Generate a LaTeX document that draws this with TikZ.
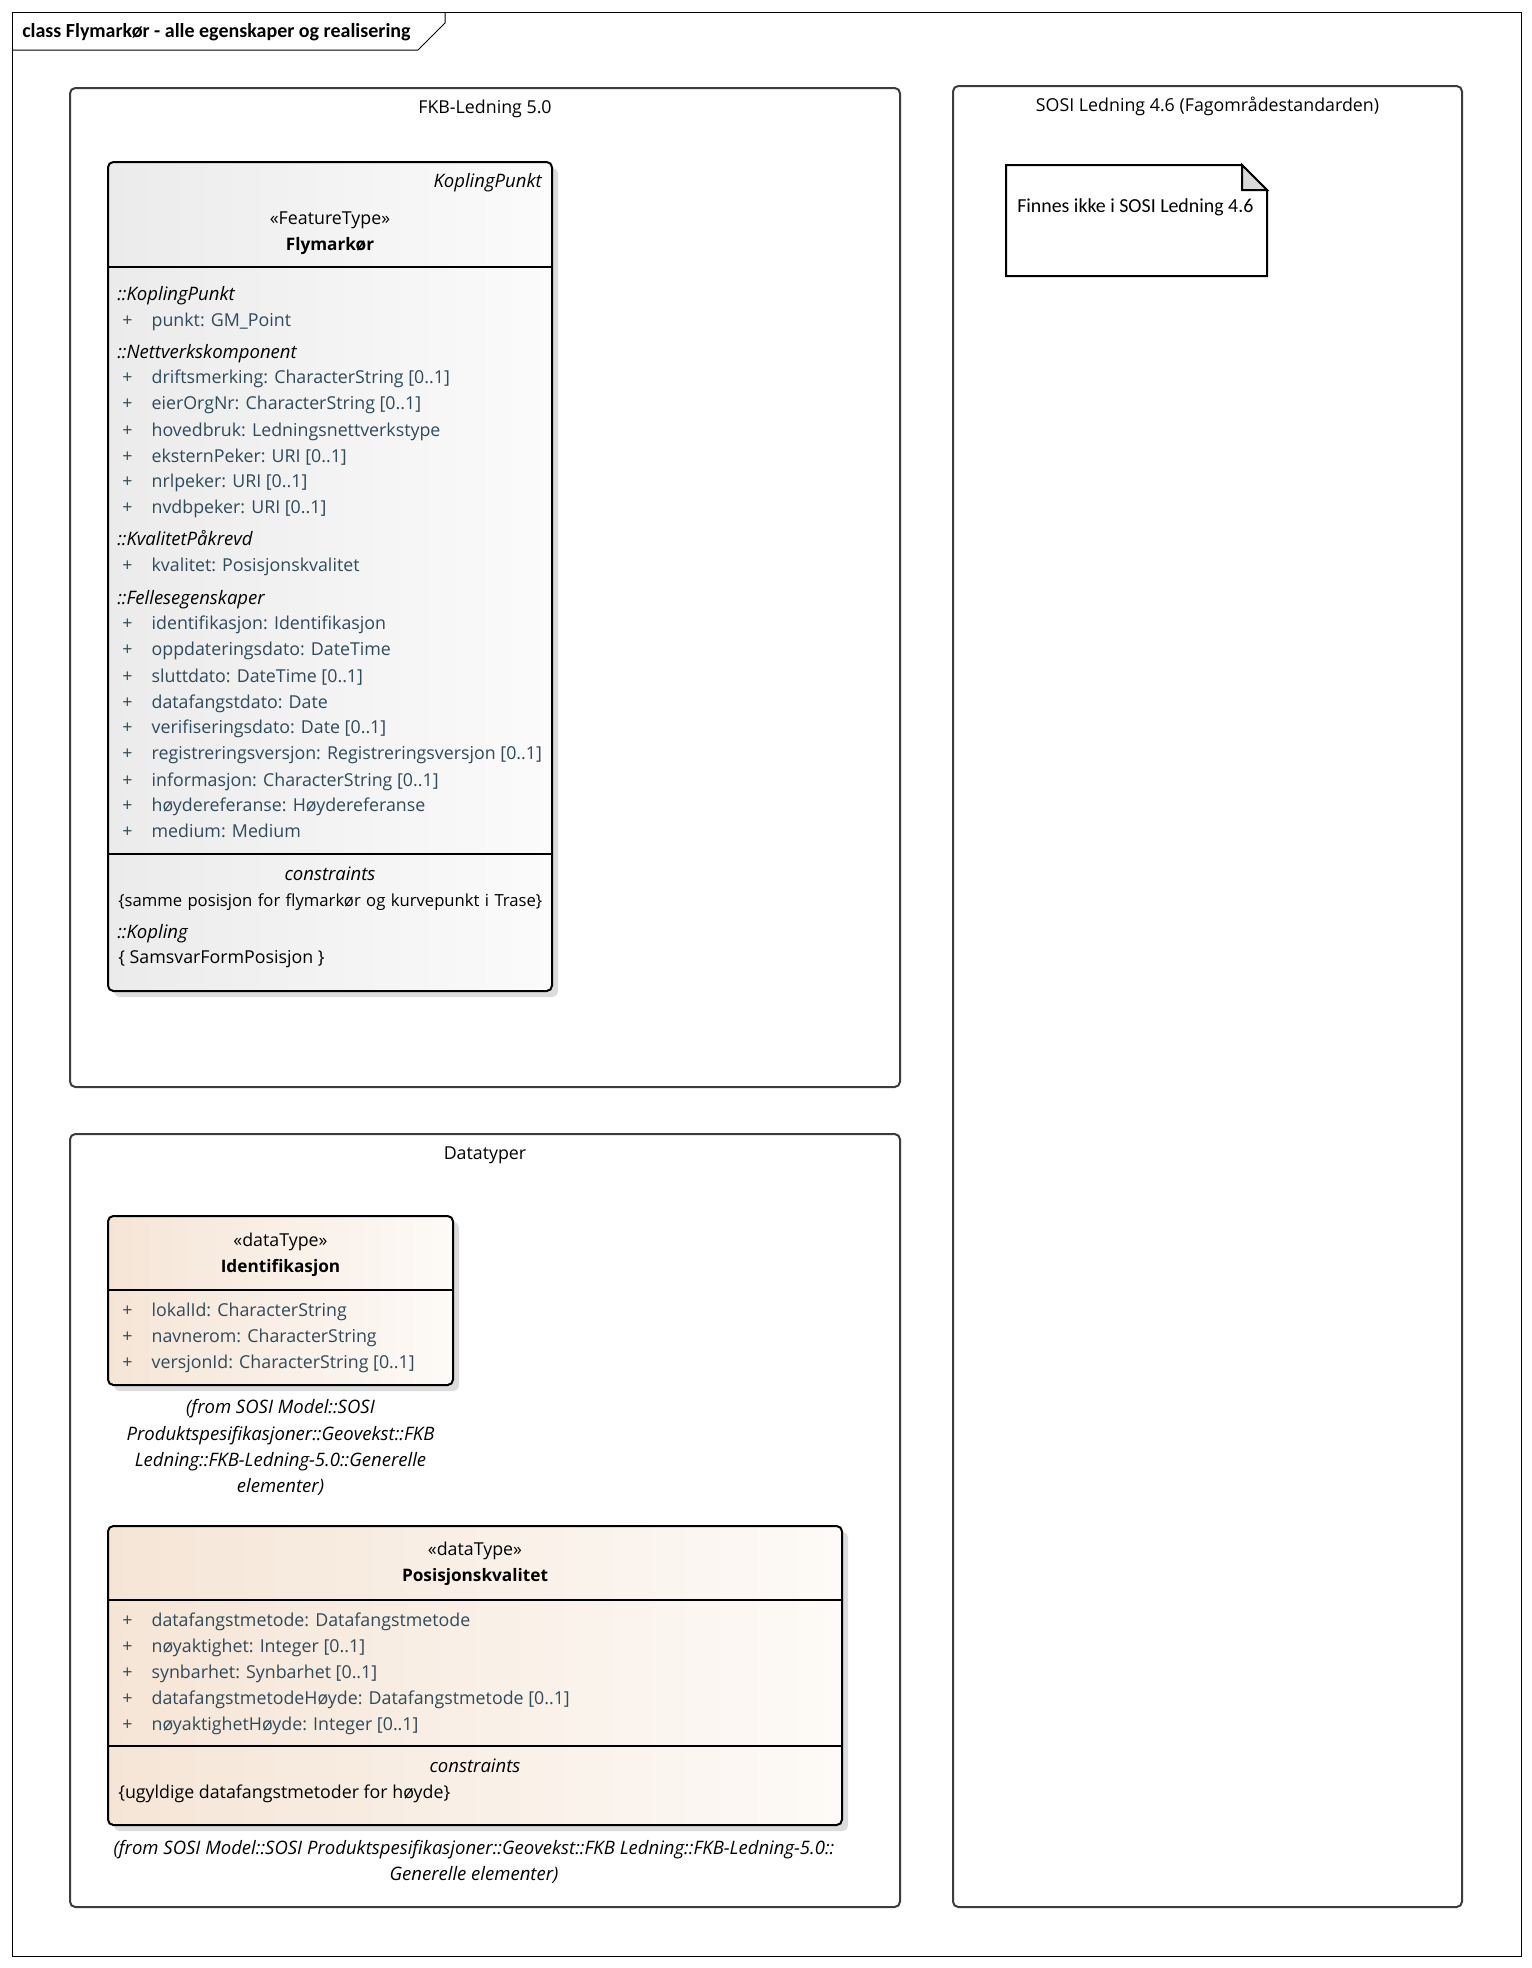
\documentclass[tikz,border=0pt]{standalone}
\usepackage{fontspec}
\setmainfont{Open Sans}
\newfontfamily\calibri{Carlito}
\usepackage{tikz}
\usetikzlibrary{positioning, fit, shadows}
\definecolor{attrgray}{HTML}{2F4A5A}
\definecolor{pkgline}{HTML}{3C3C3C}
\definecolor{featleft}{HTML}{EBEBEB}
\definecolor{featright}{HTML}{FBFBFB}
\definecolor{dataleft}{HTML}{F5E5D6}
\definecolor{dataright}{HTML}{FDFAF7}
\definecolor{shadowgray}{HTML}{DCDCDC}
\definecolor{foldgray}{HTML}{D9D9D9}
\newcommand{\umlsize}{\fontsize{13.35pt}{15pt}\selectfont}
\newcommand{\umlitsize}{\fontsize{13.9pt}{15pt}\selectfont\itshape}
\newcommand{\umlbfsize}{\fontsize{12.9pt}{15pt}\selectfont\bfseries}
\newcommand{\attrplus}{\makebox[22pt][l]{+}}

\begin{document}
\begin{tikzpicture}[
  x=0.75pt, y=-0.75pt,
  pkg/.style={rectangle, draw=pkgline, line width=1.5pt, rounded corners=4pt, inner sep=0pt},
  featbox/.style={rectangle, draw=black, line width=1.5pt, rounded corners=4pt, inner sep=0pt, left color=featleft, right color=featright, drop shadow={shadow xshift=4.5pt, shadow yshift=-4.5pt, fill=shadowgray, opacity=1}},
  databox/.style={featbox, left color=dataleft, right color=dataright},
  sepline/.style={black, line width=1.5pt},
  attr/.style={anchor=base west, inner sep=0pt, text=attrgray, font=\umlsize},
  grp/.style={anchor=base west, inner sep=0pt, font=\umlitsize},
  txt/.style={anchor=base west, inner sep=0pt, font=\umlsize},
  ctr/.style={anchor=base, inner sep=0pt, font=\umlsize},
  from/.style={anchor=base, inner sep=0pt, font=\umlitsize}
]
\useasboundingbox (0,0) rectangle (1532,1968);

% diagram frame
\draw[line width=0.75pt] (12,12) rectangle (1521,1956);
\draw[line width=0.75pt] (12,50) -- (418,50) -- (445,23) -- (445,12);
\node[anchor=base west, inner sep=0pt, font=\calibri\fontsize{15pt}{17pt}\selectfont\bfseries] (frametitle) at (22,37) {class Flymarkør - alle egenskaper og realisering};

% packages
\node[pkg, fit={(70,88) (900,1087)}] (fkb) {};
\node[ctr] (fkbname) at (485,113.5) {FKB-Ledning 5.0};
\node[pkg, fit={(953,86) (1462,1907)}] (sosi) {};
\node[ctr] (sosiname) at (1207.5,111.5) {SOSI Ledning 4.6 (Fagområdestandarden)};
\node[pkg, fit={(70,1134) (900,1907)}] (dtyper) {};
\node[ctr] (dtypername) at (485,1159.5) {Datatyper};

% note
\draw[line width=1.5pt, fill=white] (1006,165) -- (1242,165) -- (1267,190) -- (1267,276) -- (1006,276) -- cycle;
\filldraw[line width=1.5pt, fill=foldgray] (1242,165) -- (1242,190) -- (1267,190) -- cycle;
\node[anchor=base west, inner sep=0pt, font=\calibri\fontsize{14.9pt}{17pt}\selectfont] (notetext) at (1017,212.5) {Finnes ikke i SOSI Ledning 4.6};

% Flymarkør
\node[featbox, fit={(108,162) (552,991)}] (fly) {};
\draw[sepline] (108,267) -- (552,267);
\draw[sepline] (108,854) -- (552,854);
\node[anchor=base east, inner sep=0pt, font=\umlitsize] (fly-parent) at (542,187.5) {KoplingPunkt};
\node[ctr] (fly-stereo) at (330,224.5) {«FeatureType»};
\node[ctr, font=\umlbfsize] (fly-name) at (330,250.5) {Flymarkør};
\node[grp] (g-kopling) at (117,300.5) {::KoplingPunkt};
\node[attr] (a-punkt) at (122,326) {\attrplus punkt: GM\_Point};
\node[grp] (g-nett) at (117,358) {::Nettverkskomponent};
\node[attr] (a-drift) at (122,383.5) {\attrplus driftsmerking: CharacterString [0..1]};
\node[attr] (a-eier) at (122,409.5) {\attrplus eierOrgNr: CharacterString [0..1]};
\node[attr] (a-hoved) at (122,436) {\attrplus hovedbruk: Ledningsnettverkstype};
\node[attr] (a-ekstern) at (122,462) {\attrplus eksternPeker: URI [0..1]};
\node[attr] (a-nrl) at (122,487.5) {\attrplus nrlpeker: URI [0..1]};
\node[attr] (a-nvdb) at (122,513.5) {\attrplus nvdbpeker: URI [0..1]};
\node[grp] (g-kval) at (117,545) {::KvalitetPåkrevd};
\node[attr] (a-kval) at (122,571.5) {\attrplus kvalitet: Posisjonskvalitet};
\node[grp] (g-felles) at (117,604) {::Fellesegenskaper};
\node[attr] (a-ident) at (122,629) {\attrplus identifikasjon: Identifikasjon};
\node[attr] (a-oppd) at (122,655.5) {\attrplus oppdateringsdato: DateTime};
\node[attr] (a-slutt) at (122,682) {\attrplus sluttdato: DateTime [0..1]};
\node[attr] (a-dfdato) at (122,708) {\attrplus datafangstdato: Date};
\node[attr] (a-verif) at (122,733) {\attrplus verifiseringsdato: Date [0..1]};
\node[attr] (a-regv) at (122,759.5) {\attrplus registreringsversjon: Registreringsversjon [0..1]};
\node[attr] (a-info) at (122,786) {\attrplus informasjon: CharacterString [0..1]};
\node[attr] (a-hoyde) at (122,811) {\attrplus høydereferanse: Høydereferanse};
\node[attr] (a-medium) at (122,837.5) {\attrplus medium: Medium};
\node[ctr, font=\umlitsize] (fly-constr) at (330,880.5) {constraints};
\node[txt, font=\fontsize{12.5pt}{15pt}\selectfont] (c-samme) at (118,906.5) {\makebox[318pt][s]{\{samme posisjon for flymarkør og kurvepunkt i Trase\}}};
\node[grp] (g-koplingc) at (117,938.5) {::Kopling};
\node[txt] (c-samsvar) at (118,963.5) {\{ SamsvarFormPosisjon \}};

% Identifikasjon
\node[databox, fit={(108,1216) (453,1385)}] (ident) {};
\draw[sepline] (108,1290) -- (453,1290);
\node[ctr] (ident-stereo) at (280.5,1246.5) {«dataType»};
\node[ctr, font=\umlbfsize] (ident-name) at (280.5,1272.5) {Identifikasjon};
\node[attr] (a-lokal) at (122,1316.5) {\attrplus lokalId: CharacterString};
\node[attr] (a-navn) at (122,1342.5) {\attrplus navnerom: CharacterString};
\node[attr] (a-versjon) at (122,1368.5) {\attrplus versjonId: CharacterString [0..1]};
\node[from] (ident-from1) at (280.5,1413.5) {(from SOSI Model::SOSI};
\node[from] (ident-from2) at (280.5,1440) {Produktspesifikasjoner::Geovekst::FKB};
\node[from] (ident-from3) at (280.5,1466.5) {Ledning::FKB-Ledning-5.0::Generelle};
\node[from] (ident-from4) at (280.5,1492.5) {elementer)};

% Posisjonskvalitet
\node[databox, fit={(108,1526) (842,1825)}] (poskval) {};
\draw[sepline] (108,1600) -- (842,1600);
\draw[sepline] (108,1746) -- (842,1746);
\node[ctr] (pos-stereo) at (475,1555) {«dataType»};
\node[ctr, font=\umlbfsize] (pos-name) at (475,1581.5) {Posisjonskvalitet};
\node[attr] (a-dfmetode) at (122,1626.5) {\attrplus datafangstmetode: Datafangstmetode};
\node[attr] (a-noy) at (122,1652.5) {\attrplus nøyaktighet: Integer [0..1]};
\node[attr] (a-synb) at (122,1678.5) {\attrplus synbarhet: Synbarhet [0..1]};
\node[attr] (a-dfmh) at (122,1704.5) {\attrplus datafangstmetodeHøyde: Datafangstmetode [0..1]};
\node[attr] (a-noyh) at (122,1730.5) {\attrplus nøyaktighetHøyde: Integer [0..1]};
\node[ctr, font=\umlitsize] (pos-constr) at (475,1772.5) {constraints};
\node[txt] (c-ugyldige) at (118,1798.5) {\{ugyldige datafangstmetoder for høyde\}};
\node[from] (pos-from1) at (474,1854.5) {(from SOSI Model::SOSI Produktspesifikasjoner::Geovekst::FKB Ledning::FKB-Ledning-5.0::};
\node[from] (pos-from2) at (474,1880.5) {Generelle elementer)};

\end{tikzpicture}
\end{document}
